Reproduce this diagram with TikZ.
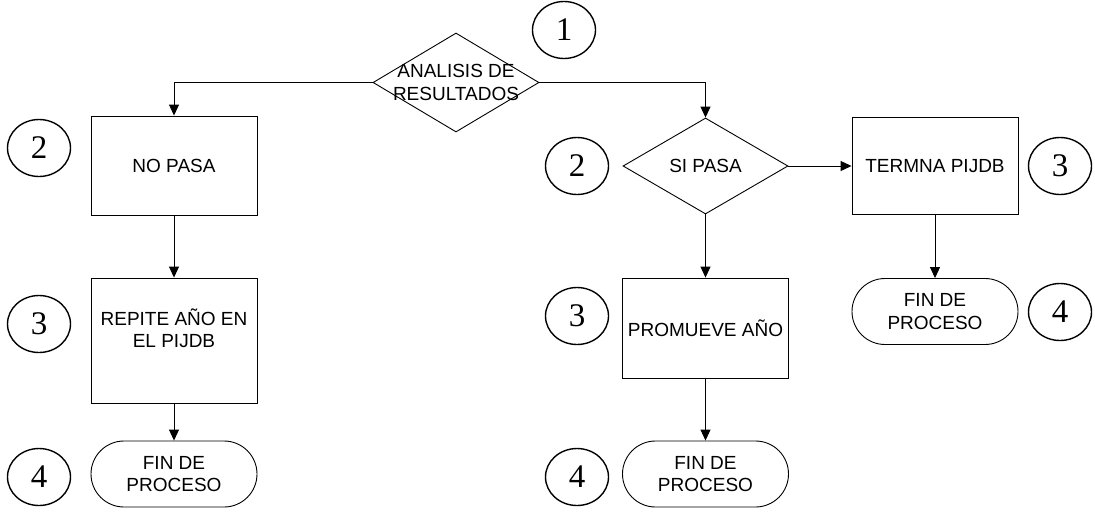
\documentclass[tikz,border=0pt]{standalone}
\usepackage{fontspec}
\setmainfont{Liberation Sans}
\newfontfamily\numfont{Liberation Serif}
\usetikzlibrary{shapes.geometric,arrows.meta}
\begin{document}
\begin{tikzpicture}[x=1pt,y=-1pt,
  every node/.style={font=\fontsize{19}{22.5}\selectfont, align=center},
  procbox/.style={draw, line width=0.9pt, inner sep=0pt, minimum width=166pt},
  endbox/.style={draw, line width=0.9pt, rounded corners=33pt, minimum width=166pt, minimum height=66pt, inner sep=0pt},
  decbox/.style={draw, diamond, line width=0.9pt, inner sep=0pt},
  stepnum/.style={draw, ellipse, line width=1.4pt, minimum width=63pt, minimum height=57pt, inner sep=0pt, font=\numfont\fontsize{33}{36}\selectfont},
  flow/.style={line width=0.9pt, -{Triangle[length=11pt,width=10pt]}}
]
\useasboundingbox (0,0) rectangle (1095,512);

% decision and process nodes
\node[decbox, minimum width=166pt, minimum height=99pt] (analisis) at (456,82.5) {};
\node (analisistxt) at (analisis.center) {ANALISIS DE\\RESULTADOS};

\node[procbox, minimum height=99pt] (nopasa) at (174,165.5) {NO PASA};
\node[procbox, minimum height=125pt] (repite) at (174,340.5) {};
\node (repitetxt) at (174,328) {REPITE AÑO EN\\EL PIJDB};
\node[endbox] (fin1) at (174,474) {FIN DE\\PROCESO};

\node[decbox, minimum width=165pt, minimum height=96pt] (sipasa) at (705.5,166) {SI PASA};
\node[procbox, minimum height=100pt] (promueve) at (705.5,328) {PROMUEVE AÑO};
\node[endbox] (fin2) at (705.5,474) {FIN DE\\PROCESO};

\node[procbox, minimum height=97pt] (termina) at (935,166) {TERMNA PIJDB};
\node[endbox] (fin3) at (935,311.5) {FIN DE\\PROCESO};

% step numbers
\node[stepnum] (n1) at (564,30) {1};
\node[stepnum] (n2a) at (39,148) {2};
\node[stepnum] (n3a) at (39,324) {3};
\node[stepnum] (n4a) at (39,477) {4};
\node[stepnum] (n2b) at (577,166) {2};
\node[stepnum] (n3b) at (577,316) {3};
\node[stepnum] (n4b) at (577,477) {4};
\node[stepnum] (n3c) at (1060,166) {3};
\node[stepnum] (n4c) at (1060,312) {4};

% connectors
\draw[flow] (analisis.west) -| (nopasa.north);
\draw[flow] (analisis.east) -| (sipasa.north);
\draw[flow] (nopasa) -- (repite);
\draw[flow] (repite) -- (fin1);
\draw[flow] (sipasa.south) -- (promueve.north);
\draw[flow] (promueve) -- (fin2);
\draw[flow] (sipasa.east) -- (termina.west);
\draw[flow] (termina) -- (fin3);
\end{tikzpicture}
\end{document}
